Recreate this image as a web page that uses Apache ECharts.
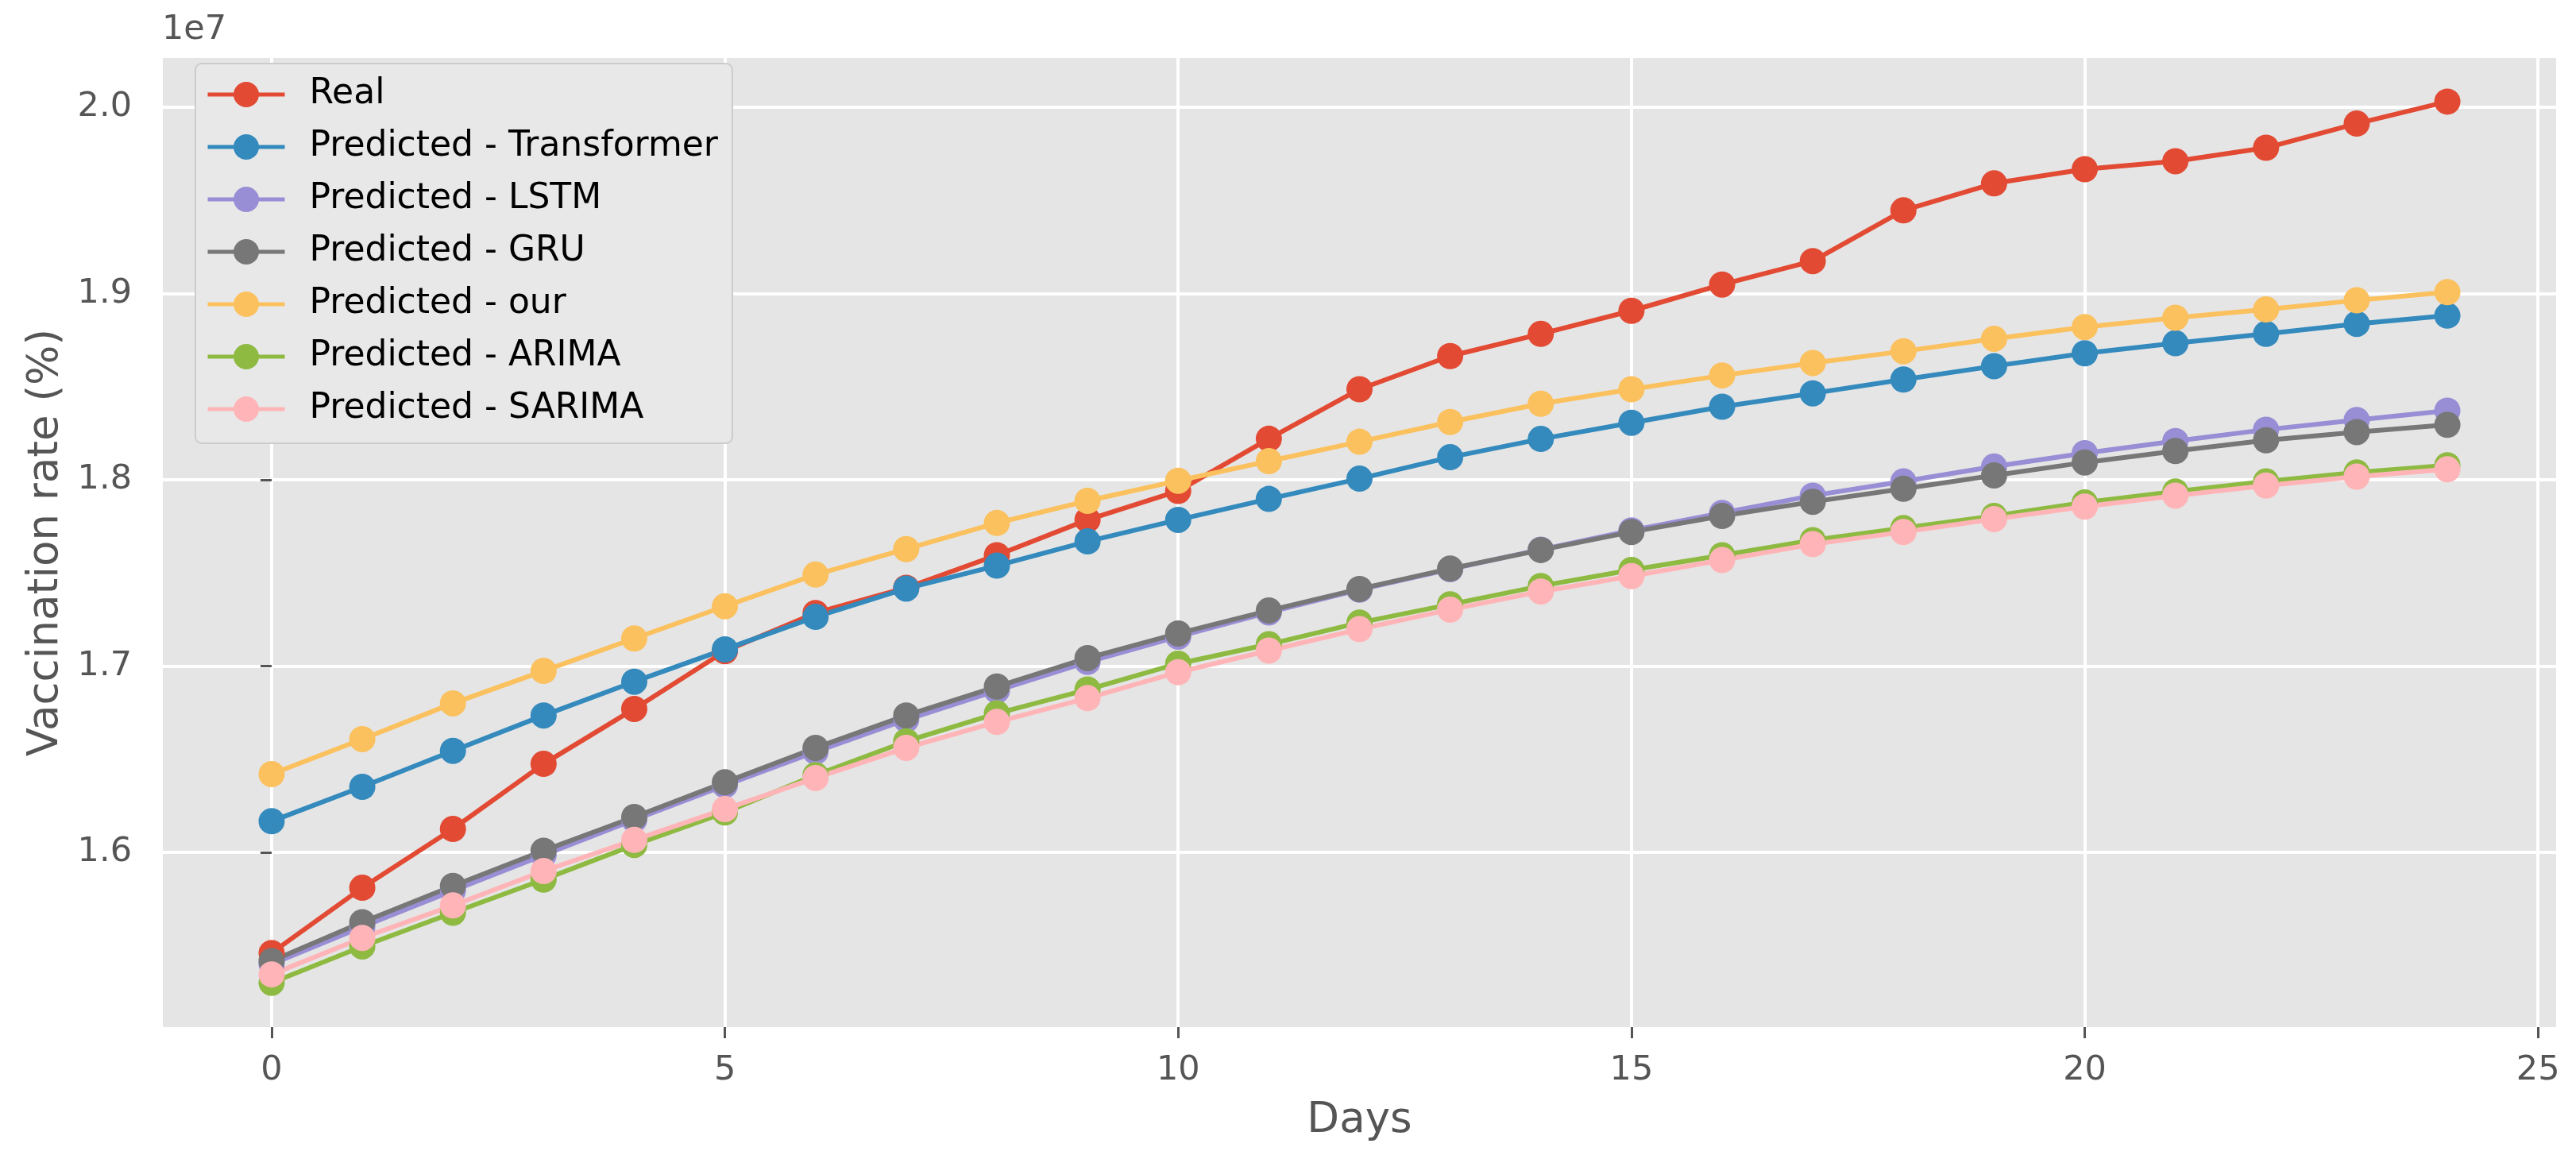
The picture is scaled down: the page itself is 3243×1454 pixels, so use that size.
<!DOCTYPE html>
<html>
<head>
<meta charset="utf-8">
<script src="https://cdn.jsdelivr.net/npm/echarts/dist/echarts.min.js"></script>
<style>
html,body{margin:0;padding:0;background:#fff;}
#chart{width:3243px;height:1454px;}
</style>
</head>
<body>
<div id="chart"></div>
<script>
const days = [0,1,2,3,4,5,6,7,8,9,10,11,12,13,14,15,16,17,18,19,20,21,22,23,24];
const seriesNames = ['Real','Predicted - Transformer','Predicted - LSTM','Predicted - GRU','Predicted - our','Predicted - ARIMA','Predicted - SARIMA'];
const real = [1.546e7,1.581e7,1.6126e7,1.6475e7,1.677e7,1.708e7,1.7285e7,1.742e7,1.7595e7,1.7785e7,1.794e7,1.822e7,1.8486e7,1.8664e7,1.8783e7,1.8907e7,1.9048e7,1.9174e7,1.9446e7,1.9591e7,1.9667e7,1.971e7,1.9782e7,1.9912e7,2.003e7];
const transformer = [1.6167e7,1.6352e7,1.6545e7,1.6735e7,1.6916e7,1.709e7,1.7264e7,1.7416e7,1.7539e7,1.7669e7,1.7785e7,1.7897e7,1.8006e7,1.8121e7,1.8219e7,1.8306e7,1.8392e7,1.8464e7,1.8538e7,1.861e7,1.8679e7,1.8733e7,1.8783e7,1.8837e7,1.8881e7];
const lstm = [1.540e7,1.560e7,1.5795e7,1.5985e7,1.6175e7,1.636e7,1.654e7,1.6712e7,1.6868e7,1.7022e7,1.7158e7,1.7288e7,1.741e7,1.752e7,1.7625e7,1.7728e7,1.7822e7,1.7915e7,1.7991e7,1.8071e7,1.8143e7,1.8208e7,1.8269e7,1.8321e7,1.8371e7];
const gru = [1.5417e7,1.5625e7,1.582e7,1.6009e7,1.619e7,1.6376e7,1.6561e7,1.6735e7,1.689e7,1.7043e7,1.7175e7,1.7298e7,1.7414e7,1.7523e7,1.7623e7,1.772e7,1.7806e7,1.7882e7,1.7952e7,1.8023e7,1.8093e7,1.8154e7,1.8212e7,1.8256e7,1.8295e7];
const our = [1.642e7,1.6608e7,1.68e7,1.6974e7,1.7148e7,1.7321e7,1.7491e7,1.7628e7,1.7768e7,1.7887e7,1.7995e7,1.81e7,1.8204e7,1.831e7,1.8408e7,1.8486e7,1.856e7,1.8627e7,1.869e7,1.8757e7,1.882e7,1.887e7,1.8914e7,1.8963e7,1.9007e7];
const arima = [1.530e7,1.5495e7,1.5676e7,1.5854e7,1.604e7,1.6214e7,1.6415e7,1.6596e7,1.6746e7,1.6874e7,1.7013e7,1.7117e7,1.7233e7,1.7331e7,1.743e7,1.7516e7,1.7595e7,1.7676e7,1.7741e7,1.7806e7,1.7878e7,1.7937e7,1.7991e7,1.8039e7,1.8078e7];
const sarima = [1.5345e7,1.5541e7,1.5715e7,1.59e7,1.6067e7,1.6232e7,1.6399e7,1.6561e7,1.67e7,1.6828e7,1.6967e7,1.7083e7,1.7198e7,1.7303e7,1.74e7,1.7483e7,1.7569e7,1.7654e7,1.772e7,1.7789e7,1.7856e7,1.7915e7,1.7969e7,1.8017e7,1.8056e7];
const xTicks = [0,5,10,15,20,25];
const yTicks = [1.6e7,1.7e7,1.8e7,1.9e7,2.0e7];

const colors = ['#E24A33','#348ABD','#988ED5','#777777','#FBC15E','#8EBA42','#FFB5B8'];
const allValues = [real, transformer, lstm, gru, our, arima, sarima];
const FONT = 'DejaVu Sans';

const series = allValues.map((vals, i) => ({
  name: seriesNames[i],
  type: 'line',
  data: days.map((d, k) => [d, vals[k]]),
  symbol: 'circle',
  symbolSize: 33,
  showSymbol: true,
  lineStyle: { width: 6, color: colors[i] },
  itemStyle: { color: colors[i] },
  emphasis: { disabled: true },
  z: 2
}));

const chart = echarts.init(document.getElementById('chart'), null, { renderer: 'canvas' });
chart.setOption({
  animation: false,
  color: colors,
  textStyle: { fontFamily: FONT },
  grid: {
    left: 205, top: 73, width: 3013, height: 1220,
    show: true, backgroundColor: '#E5E5E5', borderWidth: 0
  },
  graphic: [{
    type: 'text', left: 204, top: 16,
    style: { text: '1e7', fontSize: 43, fill: '#555555', fontFamily: FONT }
  }],
  legend: {
    orient: 'vertical',
    left: 246, top: 80,
    padding: [17, 18, 21, 13],
    itemWidth: 97, itemHeight: 40, itemGap: 22,
    lineStyle: { width: 5 },
    backgroundColor: '#E8E8E8',
    borderColor: '#CCCCCC', borderWidth: 2, borderRadius: 8,
    textStyle: { fontSize: 44, color: '#000000', fontFamily: FONT, lineHeight: 40, padding: [0, 0, 0, 26] },
    data: seriesNames
  },
  xAxis: {
    type: 'value',
    min: -1.2, max: 25.2,
    name: 'Days', nameLocation: 'middle', nameGap: 92,
    nameTextStyle: { fontSize: 53, color: '#555555', fontFamily: FONT },
    axisLine: { show: false },
    axisTick: { show: true, length: 14, lineStyle: { color: '#555555', width: 3 }, customValues: xTicks },
    axisLabel: { fontSize: 43, color: '#555555', margin: 33, customValues: xTicks, fontFamily: FONT },
    splitLine: { show: true, lineStyle: { color: '#FFFFFF', width: 4 } }
  },
  yAxis: {
    type: 'value',
    min: 1.5062e7, max: 2.0264e7,
    name: 'Vaccination rate (%)', nameLocation: 'middle', nameRotate: 90, nameGap: 120,
    nameTextStyle: { fontSize: 53, color: '#555555', fontFamily: FONT },
    axisLine: { show: false },
    axisTick: { show: true, length: 14, lineStyle: { color: '#555555', width: 3 }, customValues: yTicks },
    axisLabel: { fontSize: 43, color: '#555555', margin: 39, customValues: yTicks, fontFamily: FONT,
      formatter: v => (v / 1e7).toFixed(1) },
    splitLine: { show: true, lineStyle: { color: '#FFFFFF', width: 4 } }
  },
  series: series
});
</script>
</body>
</html>
